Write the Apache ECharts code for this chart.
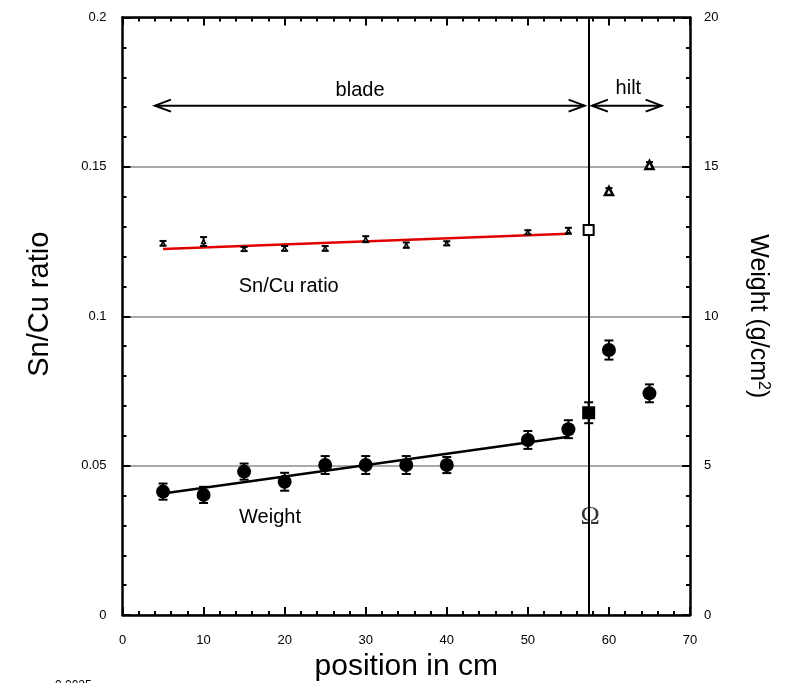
<!DOCTYPE html>
<html>
<head>
<meta charset="utf-8">
<script src="https://cdn.jsdelivr.net/npm/echarts@6.0.0/dist/echarts.min.js"></script>
<style>
  html, body { margin: 0; padding: 0; background: #fff; }
  #chart { width: 787px; height: 683px; }
</style>
</head>
<body>
<div id="chart"></div>
<script>
// blade measurements (position in cm)
const bladeX = [5, 10, 15, 20, 25, 30, 35, 40, 50, 55];
const ratioY = [0.1244, 0.125, 0.1225, 0.1227, 0.1227, 0.1258, 0.1238, 0.1244, 0.1281, 0.1286];
const ratioErr = [0.0008, 0.0015, 0.0007, 0.0008, 0.0008, 0.001, 0.0009, 0.0007, 0.0007, 0.001];
const weightY = [4.13, 4.02, 4.8, 4.46, 5.02, 5.02, 5.02, 5.02, 5.86, 6.22];
const weightErr = [0.27, 0.27, 0.27, 0.3, 0.3, 0.3, 0.3, 0.27, 0.3, 0.3];

// linear fits over the blade
const ratioFit = [[5, 0.1225], [55, 0.1276]];
const weightFit = [[5, 4.07], [55, 5.97]];

// junction point (omega)
const junctionX = 57.5;
const junctionRatio = 0.1289;
const junctionRatioErr = 0.0008;
const junctionWeight = 6.77;
const junctionWeightErr = 0.35;

// hilt measurements
const hiltX = [60, 65];
const hiltRatio = [0.1419, 0.1506];
const hiltRatioErr = [0.001, 0.001];
const hiltWeight = [8.87, 7.42];
const hiltWeightErr = [0.32, 0.3];

// annotations: [x1, x2, y] on the ratio axis
const arrows = [[4, 57, 0.1705], [57.9, 66.5, 0.1705]];
const notes = [
  ["blade", 29.3, 0.1757],
  ["hilt", 62.4, 0.1764],
  ["Sn/Cu ratio", 20.5, 0.1101],
  ["Weight", 18.2, 0.0325]
];

const FONT = "Liberation Sans, Arial, sans-serif";

function errRows(xs, ys, es) {
  return xs.map((x, i) => [x, ys[i] - es[i], ys[i] + es[i]]);
}

// error bar drawing
function errorBar(cap) {
  return function (params, api) {
    const x = api.value(0);
    const top = api.coord([x, api.value(2)]);
    const bot = api.coord([x, api.value(1)]);
    const style = { stroke: "#000", lineWidth: 2 };
    return {
      type: "group",
      children: [
        { type: "line", shape: { x1: top[0], y1: top[1], x2: bot[0], y2: bot[1] }, style },
        { type: "line", shape: { x1: top[0] - cap, y1: top[1], x2: top[0] + cap, y2: top[1] }, style },
        { type: "line", shape: { x1: bot[0] - cap, y1: bot[1], x2: bot[0] + cap, y2: bot[1] }, style }
      ]
    };
  };
}

// double-headed arrow
function arrowItem(params, api) {
  const a = api.coord([api.value(0), api.value(2)]);
  const b = api.coord([api.value(1), api.value(2)]);
  const style = { stroke: "#000", lineWidth: 2, fill: null };
  const hl = 16, hh = 6;
  return {
    type: "group",
    children: [
      { type: "line", shape: { x1: a[0], y1: a[1], x2: b[0], y2: b[1] }, style },
      { type: "polyline", shape: { points: [[a[0] + hl, a[1] - hh], [a[0], a[1]], [a[0] + hl, a[1] + hh]] }, style },
      { type: "polyline", shape: { points: [[b[0] - hl, b[1] - hh], [b[0], b[1]], [b[0] - hl, b[1] + hh]] }, style }
    ]
  };
}

function noteItem(params, api) {
  const p = api.coord([api.value(1), api.value(2)]);
  return {
    type: "text",
    x: p[0],
    y: p[1],
    style: {
      text: notes[params.dataIndex][0],
      fontFamily: FONT,
      fontSize: 20,
      fill: "#000",
      align: "center",
      verticalAlign: "middle"
    }
  };
}

const chart = echarts.init(document.getElementById("chart"));

const axisLine = { show: true, onZero: false, lineStyle: { color: "#000", width: 2.5 } };
const axisTick = { show: true, inside: true, length: 8, lineStyle: { color: "#000", width: 2 } };
const minorTick = { show: true, splitNumber: 5, length: 4, lineStyle: { color: "#000", width: 2 } };

const option = {
  animation: false,
  backgroundColor: "#fff",
  textStyle: { fontFamily: FONT },
  grid: { left: 122.5, right: 97, top: 17.5, bottom: 68, outerBoundsMode: "none", containLabel: false },
  xAxis: [
    {
      type: "value",
      position: "bottom",
      min: 0,
      max: 70,
      interval: 10,
      axisLine,
      axisTick,
      minorTick,
      splitLine: { show: false },
      axisLabel: { color: "#000", fontSize: 13, margin: 19, fontFamily: FONT },
      name: "position in cm",
      nameLocation: "middle",
      nameGap: 34,
      nameTextStyle: { color: "#000", fontSize: 30, fontFamily: FONT }
    },
    {
      type: "value",
      position: "top",
      min: 0,
      max: 70,
      interval: 10,
      axisLine,
      axisTick,
      minorTick,
      splitLine: { show: false },
      axisLabel: { show: false }
    }
  ],
  yAxis: [
    {
      type: "value",
      position: "left",
      min: 0,
      max: 0.2,
      interval: 0.05,
      axisLine,
      axisTick,
      minorTick,
      splitLine: { show: true, lineStyle: { color: "#555", width: 2, type: [1, 1] } },
      axisLabel: { color: "#000", fontSize: 13, margin: 16, fontFamily: FONT },
      name: "Sn/Cu ratio",
      nameLocation: "middle",
      nameGap: 68,
      nameTextStyle: { color: "#000", fontSize: 29, fontFamily: FONT, padding: [0, 0, 0, 24] }
    },
    {
      type: "value",
      position: "right",
      min: 0,
      max: 20,
      interval: 5,
      axisLine,
      axisTick,
      minorTick,
      splitLine: { show: false },
      axisLabel: { color: "#000", fontSize: 13, margin: 14, fontFamily: FONT },
      name: "Weight (g/cm{sup|2})",
      nameLocation: "middle",
      nameRotate: -90,
      nameGap: 55,
      nameTextStyle: {
        color: "#000",
        fontSize: 25,
        fontFamily: FONT,
        rich: { sup: { fontSize: 16, verticalAlign: "top", padding: [0, 0, 10, 0], fontFamily: FONT } }
      }
    }
  ],
  series: [
    {
      name: "junction",
      type: "line",
      data: [],
      markLine: {
        silent: true,
        symbol: "none",
        label: { show: false },
        lineStyle: { color: "#000", width: 2, type: "solid" },
        data: [{ xAxis: junctionX }]
      }
    },
    {
      name: "ratio fit",
      type: "line",
      yAxisIndex: 0,
      data: ratioFit,
      symbol: "none",
      lineStyle: { color: "#e00000", width: 2.5 },
      z: 3
    },
    {
      name: "weight fit",
      type: "line",
      yAxisIndex: 1,
      data: weightFit,
      symbol: "none",
      lineStyle: { color: "#000", width: 2.5 },
      z: 3
    },
    {
      name: "ratio err",
      type: "custom",
      yAxisIndex: 0,
      renderItem: errorBar(3.5),
      data: errRows(bladeX.concat([junctionX], hiltX),
        ratioY.concat([junctionRatio], hiltRatio),
        ratioErr.concat([junctionRatioErr], hiltRatioErr)),
      z: 4
    },
    {
      name: "weight err",
      type: "custom",
      yAxisIndex: 1,
      renderItem: errorBar(4.5),
      data: errRows(bladeX.concat([junctionX], hiltX),
        weightY.concat([junctionWeight], hiltWeight),
        weightErr.concat([junctionWeightErr], hiltWeightErr)),
      z: 4
    },
    {
      name: "Sn/Cu ratio",
      type: "scatter",
      yAxisIndex: 0,
      data: bladeX.map((x, i) => [x, ratioY[i]]),
      symbol: "triangle",
      symbolSize: 4,
      itemStyle: { color: "#fff", borderColor: "#000", borderWidth: 1.5, opacity: 1 },
      z: 5
    },
    {
      name: "ratio junction",
      type: "scatter",
      yAxisIndex: 0,
      data: [[junctionX, junctionRatio]],
      symbol: "rect",
      symbolSize: 10,
      itemStyle: { color: "#fff", borderColor: "#000", borderWidth: 2, opacity: 1 },
      z: 5
    },
    {
      name: "ratio hilt",
      type: "scatter",
      yAxisIndex: 0,
      data: hiltX.map((x, i) => [x, hiltRatio[i]]),
      symbol: "triangle",
      symbolSize: 8,
      itemStyle: { color: "#fff", borderColor: "#000", borderWidth: 2.5, opacity: 1 },
      z: 5
    },
    {
      name: "Weight",
      type: "scatter",
      yAxisIndex: 1,
      data: bladeX.map((x, i) => [x, weightY[i]]).concat(hiltX.map((x, i) => [x, hiltWeight[i]])),
      symbol: "circle",
      symbolSize: 14,
      itemStyle: { color: "#000", opacity: 1 },
      z: 5
    },
    {
      name: "weight junction",
      type: "scatter",
      yAxisIndex: 1,
      data: [[junctionX, junctionWeight]],
      symbol: "rect",
      symbolSize: 13,
      itemStyle: { color: "#000", opacity: 1 },
      z: 5
    },
    {
      name: "arrows",
      type: "custom",
      yAxisIndex: 0,
      renderItem: arrowItem,
      data: arrows,
      z: 6
    },
    {
      name: "notes",
      type: "custom",
      yAxisIndex: 0,
      renderItem: noteItem,
      data: notes.map((n) => [0, n[1], n[2]]),
      z: 6
    },
    {
      name: "omega",
      type: "scatter",
      yAxisIndex: 0,
      data: [[junctionX + 0.2, 0.0328]],
      symbolSize: 0,
      label: {
        show: true,
        position: "inside",
        formatter: "\u03A9",
        color: "#000",
        fontSize: 26,
        fontFamily: "Liberation Serif, Times New Roman, serif"
      },
      z: 6
    }
  ],
  graphic: [
    {
      type: "text",
      left: 55,
      top: 680,
      style: { text: "0.0025", fontSize: 12, fontFamily: FONT, fill: "#000" }
    }
  ]
};

chart.setOption(option);
window.addEventListener("resize", () => chart.resize());
</script>
</body>
</html>
